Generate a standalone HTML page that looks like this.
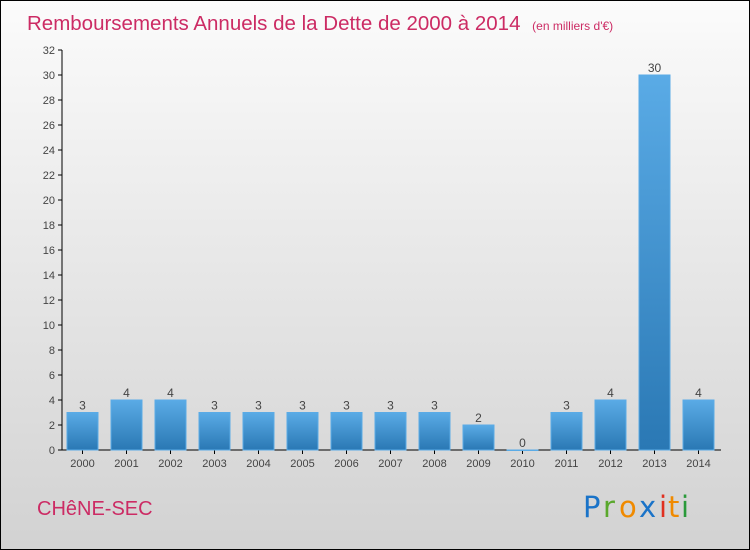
<!DOCTYPE html>
<html><head><meta charset="utf-8"><style>
body{margin:0}
#c{position:relative;width:748px;height:548px;border:1px solid #000;background:linear-gradient(#fbfbfb,#d2d2d2);font-family:"Liberation Sans",sans-serif;overflow:hidden}
</style></head><body>
<div id="c">
<svg width="748" height="548">
<defs><linearGradient id="g" x1="0" y1="0" x2="0" y2="1"><stop offset="0" stop-color="#5aabe6"/><stop offset="1" stop-color="#2a78b4"/></linearGradient></defs>
<text x="26" y="29" font-size="20.5" fill="#cc2b64">Remboursements Annuels de la Dette de 2000 à 2014 <tspan font-size="12" dx="6">(en milliers d'€)</tspan></text>
<g id="axes"></g><g id="bars"></g>
<text x="36" y="514" font-size="20" fill="#cc2b64">CHêNE-SEC</text>
<g font-size="29" font-family="'DejaVu Sans',sans-serif">
<text x="582" y="516" fill="#1a73c8">P</text><text x="602" y="516" fill="#5aa82c">r</text><text x="618" y="516" fill="#f08a00">o</text><text x="638" y="516" fill="#1a73c8">x</text><text x="658" y="516" fill="#e03020">i</text><text x="667" y="516" fill="#f08a00">t</text><text x="680" y="516" fill="#2a9a3a">i</text></g>
</svg></div>
<script>
const years=["2000","2001","2002","2003","2004","2005","2006","2007","2008","2009","2010","2011","2012","2013","2014"];
const values=[3,4,4,3,3,3,3,3,3,2,0,3,4,30,4];
const ticks=[0,2,4,6,8,10,12,14,16,18,20,22,24,26,28,30,32];
const NS="http://www.w3.org/2000/svg";
const y=v=>449-v*12.5, x=i=>81.5+i*44;
function mk(t,a,p){const e=document.createElementNS(NS,t);for(const k in a)e.setAttribute(k,a[k]);p.appendChild(e);return e;}
const ax=document.getElementById('axes'),bg=document.getElementById('bars');
const yl=mk('line',{x1:61,y1:49,x2:61,y2:449,stroke:'#000'},ax);


const xl=mk('line',{x1:61,y1:449,x2:720,y2:449,stroke:'#000'},ax);


ticks.forEach(t=>{
 mk('line',{x1:57,x2:61,y1:y(t),y2:y(t),stroke:'#000'},ax);
 const tx=mk('text',{x:54,y:y(t)+4,'font-size':11,fill:'#444','text-anchor':'end'},ax);tx.textContent=t;
 
 
});
years.forEach((yr,i)=>{
 const v=values[i];
 mk('line',{x1:x(i),x2:x(i),y1:449,y2:453,stroke:'#000'},ax);
 const tl=mk('text',{x:x(i),y:466,'font-size':11,fill:'#444','text-anchor':'middle'},ax);tl.textContent=yr;
 
 
 const r=mk('rect',{x:x(i)-15.5,y:y(v),width:31,height:Math.max(v*12.5,0.5),fill:'url(#g)',stroke:'#5aabe6','stroke-width':1},bg);
 
 
 const vl=mk('text',{x:x(i),y:y(v)-3,'font-size':12,fill:'#444','text-anchor':'middle'},bg);vl.textContent=v;
 
 
});
</script>
</body></html>
